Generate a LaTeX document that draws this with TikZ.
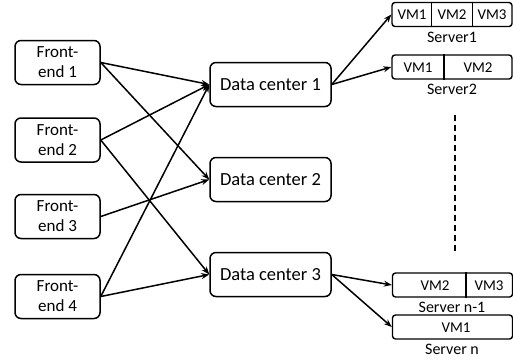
\documentclass[tikz,border=0pt]{standalone}
\usepackage{fontspec}
\setmainfont{Carlito}
\usetikzlibrary{arrows.meta,calc}
\begin{document}
\begin{tikzpicture}[x=1pt,y=-1pt,
  fe/.style={draw,line width=1.5pt,rounded corners=6pt,minimum width=85pt,minimum height=44pt,inner sep=0pt,align=center,font=\fontsize{17}{20}\selectfont},
  dc/.style={draw,line width=1.5pt,rounded corners=6pt,minimum width=121pt,minimum height=44pt,inner sep=0pt,font=\fontsize{18.5}{21}\selectfont},
  srv/.style={draw,line width=1.4pt,rounded corners=3pt,minimum width=120pt,minimum height=24pt,inner sep=0pt},
  vm/.style={font=\fontsize{15}{17}\selectfont,inner sep=0pt},
  lab/.style={font=\fontsize{16}{18}\selectfont,inner sep=0pt},
  arr/.style={-{Stealth[length=8pt,width=6pt]},line width=1.5pt},
  divider/.style={line width=1.4pt},
  dots/.style={line width=1.8pt,dash pattern=on 6pt off 4pt}
]
\useasboundingbox (0,0) rectangle (513,360);

\node[fe] (fe1) at (57.5,62.5) {Front-\\end 1};
\node[fe] (fe2) at (57.5,140) {Front-\\end 2};
\node[fe] (fe3) at (57.5,216.5) {Front-\\end 3};
\node[fe] (fe4) at (57.5,296.5) {Front-\\end 4};

\node[dc] (dc1) at (270.5,84.5) {Data center 1};
\node[dc] (dc2) at (270.5,179.5) {Data center 2};
\node[dc] (dc3) at (270.5,274.5) {Data center 3};

\node[srv] (s1) at (452,14.5) {};
\node[srv] (s2) at (452,67) {};
\node[srv] (sn1) at (452.5,285) {};
\node[srv] (sn) at (452.5,327) {};

\draw[divider] ($(s1.north west)!1/3!(s1.north east)$) -- ($(s1.south west)!1/3!(s1.south east)$);
\draw[divider] ($(s1.north west)!2/3!(s1.north east)$) -- ($(s1.south west)!2/3!(s1.south east)$);
\draw[divider] ($(s2.north west)!0.433!(s2.north east)$) -- ($(s2.south west)!0.433!(s2.south east)$);
\draw[divider] ($(sn1.north west)!0.6125!(sn1.north east)$) -- ($(sn1.south west)!0.6125!(sn1.south east)$);

\node[vm] (s1a) at (412,15) {VM1};
\node[vm] (s1b) at (452,15) {VM2};
\node[vm] (s1c) at (492,15) {VM3};
\node[vm] (s2a) at (418,67.5) {VM1};
\node[vm] (s2b) at (478,67.5) {VM2};
\node[vm] (sn1a) at (435,285.5) {VM2};
\node[vm] (sn1b) at (489,285.5) {VM3};
\node[vm] (sna) at (456,327.5) {VM1};

\node[lab] (l1) at (452,37.5) {Server1};
\node[lab] (l2) at (452,89.5) {Server2};
\node[lab] (l3) at (452,307.5) {Server n-1};
\node[lab] (l4) at (452,349) {Server n};

\coordinate (d1) at (455,115);
\coordinate (d2) at (455,252);
\draw[dots] (d1) -- (d2);

\draw[arr] (fe1.east) -- (dc1.west);
\draw[arr] (fe1.east) -- (dc2.west);
\draw[arr] (fe2.east) -- (dc1.west);
\draw[arr] (fe2.east) -- (dc3.west);
\draw[arr] (fe3.east) -- (dc2.west);
\draw[arr] (fe4.east) -- (dc1.west);
\draw[arr] (fe4.east) -- (dc3.west);

\draw[arr] (dc1.east) -- (s1.west);
\draw[arr] (dc1.east) -- (s2.west);
\draw[arr] (dc3.east) -- (sn1.west);
\draw[arr] (dc3.east) -- (sn.west);
\end{tikzpicture}
\end{document}
